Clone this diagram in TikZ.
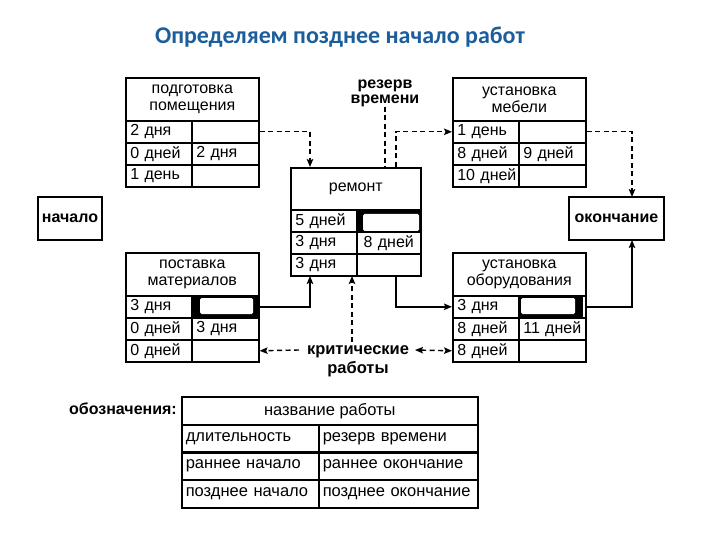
\documentclass[tikz,border=0pt]{standalone}
\usepackage{fontspec}
\setmainfont{Liberation Sans}
\newfontfamily\titlefont{Carlito}
\usetikzlibrary{arrows.meta,calc}
\definecolor{titleblue}{RGB}{28,94,156}
\tikzset{
  base/.style={font=\fontsize{16}{18}\selectfont},
  cellL/.style={base,draw,line width=1.6pt,anchor=north west,minimum height=22pt,
    inner xsep=4.5pt,inner ysep=0pt,text width=57pt,align=left},
  cellR/.style={cellL,text width=58pt},
  hdr/.style={base,draw,line width=1.6pt,anchor=north west,minimum width=133pt,
    minimum height=43pt,inner sep=0pt,align=center,font=\fontsize{16}{17}\selectfont},
  ebox/.style={base,draw,line width=1.6pt,inner sep=0pt,font=\fontsize{16}{18}\selectfont\bfseries},
  lbl/.style={align=center,inner sep=0pt},
  conn/.style={line width=1.4pt,-{Stealth[length=8pt,width=6.5pt,inset=1.5pt]}},
  dsh/.style={line width=1.4pt,dash pattern=on 5pt off 3.5pt},
  tip/.style={-{Stealth[length=8pt,width=6.5pt,inset=1.5pt]}},
  lcell/.style={draw,line width=1.6pt,anchor=north west,minimum height=28pt,
    inner xsep=4pt,inner ysep=0pt,align=left,font=\fontsize{16.5}{19}\selectfont},
}
% id, x, y(top of rows), a1,b1,a2,b2,a3,b3
\newcommand\wrows[9]{%
  \node[cellL] (#1-1a) at (#2,#3) {\mbox{#4}};
  \node[cellR] (#1-1b) at (#2+66,#3) {\mbox{#5}};
  \node[cellL] (#1-2a) at (#2,#3+22) {\mbox{#6}};
  \node[cellR] (#1-2b) at (#2+66,#3+22) {\mbox{#7}};
  \node[cellL] (#1-3a) at (#2,#3+44) {\mbox{#8}};
  \node[cellR] (#1-3b) at (#2+66,#3+44) {\mbox{#9}};
}
\begin{document}
\begin{tikzpicture}[x=1pt,y=-1pt]
\useasboundingbox (0,0) rectangle (720,540);

\node[font=\titlefont\fontsize{24}{27}\selectfont\bfseries,text=titleblue] (title) at (340,37) {Определяем позднее начало работ};

% black highlighted cells
\fill (356,209) rectangle (420,231);
\fill[white,rounded corners=1.5pt] (363,214) rectangle (419,231);
\fill (191,295) rectangle (258,317);
\fill[white,rounded corners=1.5pt] (200,298) rectangle (253,314);
\fill (518,295) rectangle (583,317);
\fill[white,rounded corners=1.5pt] (521,298) rectangle (575,314);

% подготовка помещения
\node[hdr] (prep-h) at (125,77) {подготовка\\помещения};
\wrows{prep}{125}{120}{2 дня}{}{0 дней}{2 дня}{1 день}{}

% ремонт
\node[hdr,minimum width=130pt,minimum height=42pt] (rem-h) at (290,167) {ремонт};
\node[cellL] (rem-1a) at (290,209) {\mbox{5 дней}};
\node[cellR,text width=55pt,align=center] (rem-1b) at (356,209) {};
\node[cellL] (rem-2a) at (290,231) {\mbox{3 дня}};
\node[cellR,text width=55pt,align=center] (rem-2b) at (356,231) {\mbox{8 дней}};
\node[cellL] (rem-3a) at (290,253) {\mbox{3 дня}};
\node[cellR,text width=55pt,align=center] (rem-3b) at (356,253) {};

% установка мебели
\node[hdr] (meb-h) at (452,77) {установка\\мебели};
\wrows{meb}{452}{120}{1 день}{}{8 дней}{9 дней}{10 дней}{}

% поставка материалов
\node[hdr] (post-h) at (125,252) {поставка\\материалов};
\wrows{post}{125}{295}{3 дня}{}{0 дней}{3 дня}{0 дней}{}

% установка оборудования
\node[hdr] (obor-h) at (452,252) {установка\\оборудования};
\wrows{obor}{452}{295}{3 дня}{}{8 дней}{11 дней}{8 дней}{}

% начало / окончание
\node[ebox,minimum width=64pt,minimum height=43pt] (start) at (70,218.5) {начало};
\node[ebox,minimum width=95pt,minimum height=43pt] (end) at (616.5,218.5) {окончание};

% labels
\node[lbl,font=\fontsize{16}{15}\selectfont\bfseries] (rez) at (385,93) {резерв\\времени};
\node[lbl,font=\fontsize{16.5}{19}\selectfont\bfseries] (krit) at (358,361) {критические\\работы};

% coordinates for connector ends
\coordinate (remTL) at (310,167);
\coordinate (remTR) at (396,167);
\coordinate (remBL) at (310,276);
\coordinate (remBR) at (396,276);
\coordinate (remBM) at (352,276);
\coordinate (endT) at (632,197);
\coordinate (endB) at (632,240);
\coordinate (kTop) at (352,342);
\coordinate (kL) at (299,350);
\coordinate (kR) at (415,350);

% connectors
\draw[dsh,tip] (prep-1b.east) -| (remTL);
\draw[dsh] (rez.south) -- (rez.south |- rem-h.north);
\draw[dsh,tip] (remTR) |- (meb-1a.west);
\draw[dsh,tip] (meb-1b.east) -| (endT);
\draw[conn] (post-1b.east) -| (remBL);
\draw[conn] (remBR) |- (obor-1a.west);
\draw[conn] (obor-1b.east) -| (endB);
\draw[dsh,tip] (kTop) -- (remBM);
\draw[dsh,tip] (kL) -- (post-3b.east);
\draw[dsh,{Stealth[length=8pt,width=6.5pt,inset=1.5pt]}-{Stealth[length=8pt,width=6.5pt,inset=1.5pt]}] (kR) -- (obor-3a.west);

% legend
\node[anchor=east,inner sep=0pt,font=\fontsize{16}{18}\selectfont\bfseries] (leg) at (177,409) {обозначения:};
\node[lcell,minimum width=296pt,align=center,inner xsep=0pt] (lg-h) at (181,396) {название работы};
\node[lcell,text width=129pt] (lg-1a) at (181,424) {\mbox{длительность}};
\node[lcell,text width=151pt] (lg-1b) at (318,424) {\mbox{резерв времени}};
\node[lcell,text width=129pt] (lg-2a) at (181,451) {\mbox{раннее начало}};
\node[lcell,text width=151pt] (lg-2b) at (318,451) {\mbox{раннее окончание}};
\node[lcell,text width=129pt] (lg-3a) at (181,479) {\mbox{позднее начало}};
\node[lcell,text width=151pt] (lg-3b) at (318,479) {\mbox{позднее окончание}};
\end{tikzpicture}
\end{document}
